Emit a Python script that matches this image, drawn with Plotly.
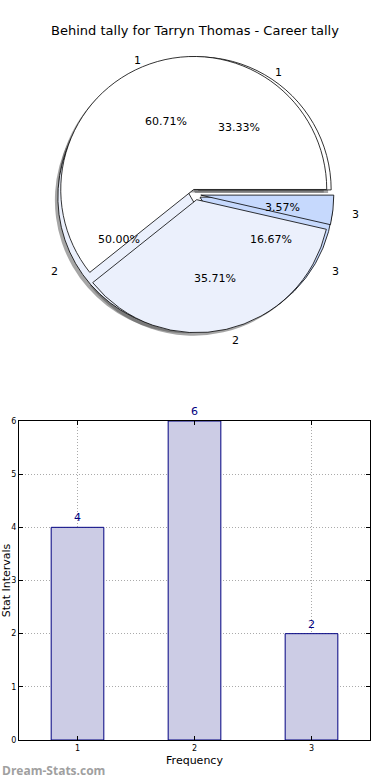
import math
import plotly.graph_objects as go

W, H = 390, 780

# ---- data ----
categories = ["1", "2", "3"]
counts = [4, 6, 2]            # career tally (pie A + bars)
behind_tally = [17, 10, 1]    # behind tally (pie B)
bar_x = [1, 2, 3]
y_ticks = [0, 1, 2, 3, 4, 5, 6]
title_text = "Behind tally for Tarryn Thomas - Career tally"
slice_colors = ["#FFFFFF", "#EBF0FC", "#C6D9FD"]

FONT = "DejaVu Sans"

# ---- pie geometry (pixels) ----
cx, cy, r, pull = 195.5, 194.5, 133, 0.04
PCT_DIST, LABEL_DIST = 0.6, 1.1
# text axes: the reference pie is drawn on slightly non-square axes
TX_CX, TX_CY, TX_RX, TX_RY = 195, 198.5, 137, 128
TEXT_BOX = 1.3   # half-size of the hidden text axes, in radii


def dom(cxp, cyp, rad, pl=0.0):
    half = rad * (1 + pl)
    return dict(x=[(cxp - half) / W, (cxp + half) / W],
                y=[1 - (cyp + half) / H, 1 - (cyp - half) / H])


fig = go.Figure()

# slices are listed last-to-first and laid clockwise from 3 o'clock, which
# draws them first-to-last counter-clockwise from 3 o'clock
labels_r = categories[::-1]
colors_r = slice_colors[::-1]
common = dict(labels=labels_r, sort=False, direction="clockwise",
              rotation=90, hoverinfo="skip", showlegend=False, textinfo="none")
pie_values = (counts, behind_tally)

# shadows
for vals in pie_values:
    fig.add_trace(go.Pie(values=vals[::-1], domain=dom(cx - 3, cy + 3, r, pull),
                         pull=[pull] * 3,
                         marker=dict(colors=["rgba(77,77,77,0.5)"] * 3,
                                     line=dict(width=0)), **common))
# wedges
for vals in pie_values:
    fig.add_trace(go.Pie(values=vals[::-1], domain=dom(cx, cy, r, pull),
                         pull=[pull] * 3,
                         marker=dict(colors=colors_r,
                                     line=dict(color="black", width=0.8)), **common))

# hidden axes centred on the pie: one unit = one pie radius
tx_dom = [(TX_CX - TEXT_BOX * TX_RX) / W, (TX_CX + TEXT_BOX * TX_RX) / W]
ty_dom = [1 - (TX_CY + TEXT_BOX * TX_RY) / H, 1 - (TX_CY - TEXT_BOX * TX_RY) / H]
fig.add_trace(go.Scatter(x=[], y=[], xaxis="x2", yaxis="y2", showlegend=False,
                         hoverinfo="skip"))

annotations = []
for vals in pie_values:
    total = float(sum(vals))
    start = 0.0
    for lab, v in zip(categories, vals):
        sweep = 360.0 * v / total
        mid = math.radians(start + sweep / 2)
        c, s = math.cos(mid), math.sin(mid)
        ox, oy = pull * c, pull * s
        annotations.append(dict(
            x=ox + PCT_DIST * c, y=oy + PCT_DIST * s, xref="x2", yref="y2",
            text=f"{100 * v / total:.2f}%", showarrow=False,
            xanchor="center", yanchor="middle",
            font=dict(family=FONT, size=11, color="black")))
        annotations.append(dict(
            x=ox + LABEL_DIST * c, y=oy + LABEL_DIST * s, xref="x2", yref="y2",
            text=lab, showarrow=False,
            xanchor="left" if c > 0 else "right", yanchor="middle",
            font=dict(family=FONT, size=11, color="black")))
        start += sweep

# ---- bar chart ----
fig.add_trace(go.Bar(x=bar_x, y=counts, width=0.45,
                     marker=dict(color="#CCCCE5", line=dict(color="#000080", width=1)),
                     text=[str(v) for v in counts], textposition="outside",
                     textfont=dict(family=FONT, size=11, color="#000080"),
                     cliponaxis=False, constraintext="none",
                     hoverinfo="skip", showlegend=False))

axis_common = dict(showgrid=True, gridcolor="#AAAAAA", griddash="1px,2px", gridwidth=1,
                   showline=True, linecolor="black", linewidth=1, mirror="ticks",
                   ticks="inside", ticklen=4, tickcolor="black", zeroline=False,
                   tickfont=dict(size=8), automargin=False)

annotations.append(dict(text="<b>Dream-Stats.com</b>", x=0, y=1 - 770 / H,
                        xref="paper", yref="paper", xanchor="left", yanchor="middle",
                        showarrow=False,
                        font=dict(family="Open Sans", size=12, color="#A0A0A0")))

fig.update_layout(
    width=W, height=H, margin=dict(l=0, r=0, t=0, b=0),
    paper_bgcolor="white", plot_bgcolor="white",
    font=dict(family=FONT, color="black"),
    title=dict(text=title_text, x=0.5, xanchor="center", y=1 - 30 / H,
               yanchor="middle", font=dict(family=FONT, size=13, color="black"),
               automargin=False),
    xaxis=dict(domain=[19 / W, 370 / W], range=[0.5, 3.5], tickvals=bar_x,
               ticktext=categories,
               title=dict(text="Frequency", font=dict(size=11), standoff=4),
               **axis_common),
    yaxis=dict(domain=[1 - 740 / H, 1 - 421 / H], range=[0, 6], tickvals=y_ticks,
               title=dict(text="Stat Intervals", font=dict(size=11), standoff=2),
               **axis_common),
    xaxis2=dict(domain=tx_dom, range=[-TEXT_BOX, TEXT_BOX], visible=False,
                anchor="y2", fixedrange=True),
    yaxis2=dict(domain=ty_dom, range=[-TEXT_BOX, TEXT_BOX], visible=False,
                anchor="x2", fixedrange=True),
    annotations=annotations,
)

fig.write_html("out.html", config={"displayModeBar": False},
               post_script="document.body.style.margin='0';")
